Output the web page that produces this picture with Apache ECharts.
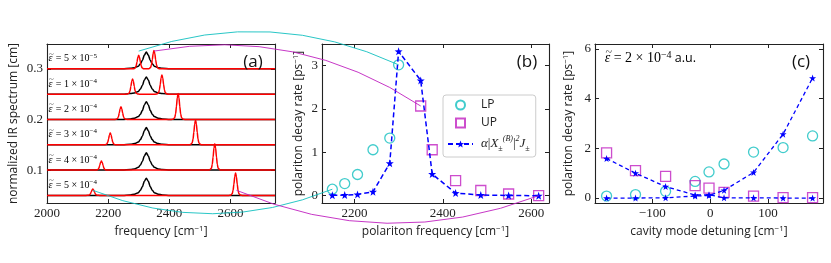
<!DOCTYPE html>
<html><head><meta charset="utf-8">
<script src="https://cdn.jsdelivr.net/npm/echarts@6/dist/echarts.min.js"></script>
<style>html,body{margin:0;padding:0;background:#fff}#c{width:831px;height:263px}</style>
</head><body><div id="c"></div>
<script>
// ---------- panel (a): IR spectra ----------
const spectrumEpsMantissa = [5, 1, 2, 3, 4, 5];
const spectrumEpsExponent = [-5, -4, -4, -4, -4, -4];
const spectrumBaselines = [0.30, 0.25, 0.20, 0.15, 0.10, 0.05];
const lpPeakFreq = [2300, 2280, 2242, 2207, 2178, 2150];
const upPeakFreq = [2350, 2376, 2429, 2486, 2549, 2617];
const lpPeakHeight = [0.027, 0.030, 0.025, 0.023, 0.018, 0.0125];
const upPeakHeight = [0.036, 0.038, 0.051, 0.049, 0.052, 0.044];
const moleculePeakFreq = 2325;
const moleculePeakHeight = [0.033, 0.034, 0.035, 0.034, 0.034, 0.034];
const spectrumFreqRange = [2000, 2746];
const redPeakWidth = 11;
const blackPeakWidth = 26;
// peak profile (offset in peak-width units, relative height)
const redProfileOffsets = [-2, -1.5, -1, -0.75, -0.5, -0.25, 0, 0.25, 0.5, 0.75, 1, 1.5, 2];
const redProfileValues  = [0, 0.01, 0.07, 0.22, 0.5, 0.84, 1, 0.84, 0.5, 0.22, 0.07, 0.01, 0];
const blackProfileOffsets = [-3, -2, -1.5, -1, -0.75, -0.5, -0.25, 0, 0.25, 0.5, 0.75, 1, 1.5, 2, 3];
const blackProfileValues  = [0, 0.03, 0.07, 0.16, 0.3, 0.5, 0.82, 1, 0.82, 0.5, 0.3, 0.16, 0.07, 0.03, 0];
const aXTicks = [2000, 2200, 2400, 2600];
const aYTicks = [0.1, 0.2, 0.3];

// ---------- panel (b): decay rate vs polariton frequency ----------
const bLPFreq = [2150, 2178, 2207, 2242, 2280, 2300];
const bLPRate = [0.15, 0.28, 0.49, 1.06, 1.33, 3.02];
const bUPFreq = [2350, 2376, 2429, 2486, 2549, 2617];
const bUPRate = [2.07, 1.06, 0.35, 0.12, 0.04, 0.0];
const bModelFreq = [2150, 2178, 2207, 2242, 2280, 2300, 2350, 2376, 2429, 2486, 2549, 2617];
const bModelRate = [0.01, 0.015, 0.03, 0.09, 0.75, 3.33, 2.66, 0.5, 0.06, 0.015, 0.005, 0.0];
const bXTicks = [2200, 2400, 2600];
const bYTicks = [0, 1, 2, 3];

// ---------- panel (c): decay rate vs detuning ----------
const cDetuning = [-179, -129, -77, -26, -2, 24, 75, 126, 177];
const cLPRate = [0.08, 0.14, 0.27, 0.67, 1.05, 1.37, 1.85, 2.03, 2.5];
const cUPRate = [1.82, 1.1, 0.87, 0.5, 0.4, 0.23, 0.08, 0.02, 0.02];
const cLPModel = [0, 0, 0.01, 0.08, 0.1, 0.31, 1.03, 2.57, 4.83];
const cUPModel = [1.59, 1.0, 0.46, 0.12, 0.13, 0.01, 0.01, 0, 0];
const cXTicks = [-100, 0, 100];
const cYTicks = [0, 2, 4, 6];

const CYAN = '#11bfbf', MAGENTA = '#c020c0', BLUE = '#0000ff';
const SERIF = '"Liberation Serif", "DejaVu Serif", serif';
const SANS = '"Open Sans", "Noto Sans", sans-serif';
const STAR = 'path://M0,-10 L2.35,-3.24 L9.51,-3.09 L3.8,1.24 L5.88,8.09 L0,4 L-5.88,8.09 L-3.8,1.24 L-9.51,-3.09 L-2.35,-3.24 Z';
const SQUARE = 'path://M0,0 L10,0 L10,10 L0,10 Z';

const grids = [
  {left: 47, top: 44, width: 228, height: 159},
  {left: 322, top: 44, width: 227, height: 159},
  {left: 595, top: 44, width: 228, height: 159}
];
const ranges = [
  {x: [2000, 2746], y: [0.035, 0.349], xt: aXTicks, yt: aYTicks,
   xname: 'frequency [cm{s|−1}]', yname: 'normalized IR spectrum [cm]', yGap: 27,
   yfmt: v => v.toFixed(1)},
  {x: [2126.6, 2640.4], y: [-0.168, 3.50], xt: bXTicks, yt: bYTicks,
   xname: 'polariton frequency [cm{s|−1}]', yname: 'polariton decay rate [ps{s|−1}]', yGap: 16,
   yfmt: v => String(v)},
  {x: [-199, 195], y: [-0.2, 6.2], xt: cXTicks, yt: cYTicks,
   xname: 'cavity mode detuning [cm{s|−1}]', yname: 'polariton decay rate [ps{s|−1}]', yGap: 19,
   yfmt: v => String(v)}
];
const nameRich = {s: {fontSize: 8, fontFamily: SANS, color: '#222', verticalAlign: 'top', lineHeight: 14}};
const xAxes = [], yAxes = [];
ranges.forEach((r, gi) => {
  const common = {type: 'value', gridIndex: gi, splitLine: {show: false},
    axisLine: {onZero: false, lineStyle: {color: '#222', width: 1.1}}};
  xAxes.push(Object.assign({}, common, {
    min: r.x[0], max: r.x[1], position: 'bottom',
    axisTick: {inside: true, length: 4, customValues: r.xt, lineStyle: {color: '#222'}},
    axisLabel: {customValues: r.xt, margin: 4, fontFamily: SERIF, fontSize: 13, color: '#222',
      formatter: v => v < 0 ? '−' + Math.abs(v) : String(v)},
    name: r.xname, nameLocation: 'middle', nameGap: 21,
    nameTextStyle: {fontFamily: SANS, fontSize: 12, color: '#222', rich: nameRich}
  }));
  xAxes.push(Object.assign({}, common, {
    min: r.x[0], max: r.x[1], position: 'top',
    axisTick: {inside: true, length: 4, customValues: r.xt, lineStyle: {color: '#222'}},
    axisLabel: {show: false}
  }));
  yAxes.push(Object.assign({}, common, {
    min: r.y[0], max: r.y[1], position: 'left',
    axisTick: {inside: true, length: 4, customValues: r.yt, lineStyle: {color: '#222'}},
    axisLabel: {customValues: r.yt, margin: 4, fontFamily: SERIF, fontSize: 13, color: '#222', formatter: r.yfmt},
    name: r.yname, nameLocation: 'middle', nameGap: r.yGap, nameRotate: 90,
    nameTextStyle: {fontFamily: SANS, fontSize: 12, color: '#222', rich: nameRich}
  }));
  yAxes.push(Object.assign({}, common, {
    min: r.y[0], max: r.y[1], position: 'right',
    axisTick: {inside: true, length: 4, customValues: r.yt, lineStyle: {color: '#222'}},
    axisLabel: {show: false}
  }));
});

function peakPoints(center, height, width, base, offsets, values) {
  return offsets.map((o, i) => [center + o * width, base + height * values[i]]);
}
const series = [];
spectrumBaselines.forEach((b, i) => {
  const black = [[spectrumFreqRange[0], b]]
    .concat(peakPoints(moleculePeakFreq, moleculePeakHeight[i], blackPeakWidth, b, blackProfileOffsets, blackProfileValues))
    .concat([[spectrumFreqRange[1], b]]);
  const red = [[spectrumFreqRange[0], b]]
    .concat(peakPoints(lpPeakFreq[i], lpPeakHeight[i], redPeakWidth, b, redProfileOffsets, redProfileValues))
    .concat(peakPoints(upPeakFreq[i], upPeakHeight[i], redPeakWidth, b, redProfileOffsets, redProfileValues))
    .concat([[spectrumFreqRange[1], b]]);
  series.push({type: 'line', xAxisIndex: 0, yAxisIndex: 0, data: black, showSymbol: false, smooth: 0.3,
    smoothMonotone: 'x', lineStyle: {color: '#000', width: 1.5}, z: 2, silent: true});
  series.push({type: 'line', xAxisIndex: 0, yAxisIndex: 0, data: red, showSymbol: false, smooth: 0.3,
    smoothMonotone: 'x', lineStyle: {color: '#ff0000', width: 1.5}, z: 3, silent: true});
});
const zip = (a, b) => a.map((v, i) => [v, b[i]]);
const circleStyle = {color: 'rgba(0,0,0,0)', borderColor: CYAN, borderWidth: 1.3};
const squareStyle = {color: 'rgba(0,0,0,0)', borderColor: MAGENTA, borderWidth: 1.3};
// panel b
series.push({name: 'LP', type: 'scatter', xAxisIndex: 2, yAxisIndex: 2, data: zip(bLPFreq, bLPRate),
  symbol: 'circle', symbolSize: 10, itemStyle: circleStyle, z: 3});
series.push({name: 'UP', type: 'scatter', xAxisIndex: 2, yAxisIndex: 2, data: zip(bUPFreq, bUPRate),
  symbol: SQUARE, symbolSize: 10, itemStyle: squareStyle, z: 3});
series.push({name: 'model', type: 'line', xAxisIndex: 2, yAxisIndex: 2, data: zip(bModelFreq, bModelRate),
  symbol: STAR, symbolSize: 8, itemStyle: {color: BLUE},
  lineStyle: {color: BLUE, width: 1.5, type: [5, 3]}, z: 4});
// panel c
series.push({name: 'LP', type: 'scatter', xAxisIndex: 4, yAxisIndex: 4, data: zip(cDetuning, cLPRate),
  symbol: 'circle', symbolSize: 10, itemStyle: circleStyle, z: 3});
series.push({name: 'UP', type: 'scatter', xAxisIndex: 4, yAxisIndex: 4, data: zip(cDetuning, cUPRate),
  symbol: SQUARE, symbolSize: 10, itemStyle: squareStyle, z: 3});
series.push({name: 'model', type: 'line', xAxisIndex: 4, yAxisIndex: 4, data: zip(cDetuning, cLPModel),
  symbol: STAR, symbolSize: 7, itemStyle: {color: BLUE},
  lineStyle: {color: BLUE, width: 1.3, type: [4, 3]}, z: 4});
series.push({name: 'model', type: 'line', xAxisIndex: 4, yAxisIndex: 4, data: zip(cDetuning, cUPModel),
  symbol: STAR, symbolSize: 7, itemStyle: {color: BLUE},
  lineStyle: {color: BLUE, width: 1.3, type: [4, 3]}, z: 4});

const chart = echarts.init(document.getElementById('c'), null, {renderer: 'canvas'});
const option = {
  animation: false,
  backgroundColor: '#fff',
  grid: grids,
  xAxis: xAxes,
  yAxis: yAxes,
  legend: {
    data: [{name: 'LP', icon: 'circle'}, {name: 'UP', icon: SQUARE}, {name: 'model'}],
    orient: 'vertical', left: 443, top: 95,
    padding: [4, 6, 4, 4], itemGap: 6, itemWidth: 25, itemHeight: 9, symbolKeepAspect: true,
    backgroundColor: '#fff', borderColor: '#ccc', borderWidth: 1, borderRadius: 3,
    selectedMode: false, z: 10,
    textStyle: {fontFamily: SANS, fontSize: 12, color: '#222', padding: [0, 0, 0, 3],
      rich: {
        g: {fontFamily: SERIF, fontStyle: 'italic', fontSize: 13, color: '#222', lineHeight: 18},
        n: {fontFamily: SERIF, fontSize: 13, color: '#222', lineHeight: 18},
        sup: {fontFamily: SERIF, fontStyle: 'italic', fontSize: 8, color: '#222', verticalAlign: 'top', lineHeight: 18},
        sub: {fontFamily: SERIF, fontSize: 8, color: '#222', verticalAlign: 'bottom', lineHeight: 18}
      }},
    formatter: name => name === 'model'
      ? '{g|α}{n||}{g|X}{sub|±}{sup|(B)}{n||}{sup|2}{g|J}{sub|±}'
      : name
  },
  series: series
};
chart.setOption(option);

// ---------- annotation layer ----------
const topAnchorY = 0.335, bottomAnchorY = 0.06;
function px(gi, x, y) { return chart.convertToPixel({xAxisIndex: 2 * gi, yAxisIndex: 2 * gi}, [x, y]); }
function arc(p0, p2, rad, color) {
  const dx = p2[0] - p0[0], dy = p2[1] - p0[1];
  const mx = (p0[0] + p2[0]) / 2, my = (p0[1] + p2[1]) / 2;
  const cx = mx + rad * dy, cy = my - rad * dx;
  return {type: 'bezierCurve', z: 100, silent: true,
    shape: {x1: p0[0], y1: p0[1], x2: p2[0], y2: p2[1], cpx1: cx, cpy1: cy},
    style: {stroke: color, lineWidth: 0.9, fill: null}};
}
const graphics = [];
graphics.push(arc(px(0, lpPeakFreq[0], topAnchorY), px(1, bLPFreq[5], bLPRate[5]), 0.2, CYAN));
graphics.push(arc(px(0, upPeakFreq[0], topAnchorY), px(1, bUPFreq[0], bUPRate[0]), 0.2, MAGENTA));
graphics.push(arc(px(0, lpPeakFreq[5], bottomAnchorY), px(1, bLPFreq[0], bLPRate[0]), -0.2, CYAN));
graphics.push(arc(px(0, upPeakFreq[5] + 3, bottomAnchorY), px(1, bUPFreq[5], bUPRate[5]), -0.2, MAGENTA));

// epsilon-tilde label: epsilon with a small tilde placed over it
function epsLabel(x, y, size, rest, sup, tail, color) {
  const rich = {
    t: {fontFamily: SERIF, fontSize: size, color: color, lineHeight: size + 3},
    e: {fontFamily: SERIF, fontStyle: 'italic', fontSize: size, color: color, lineHeight: size + 3},
    s: {fontFamily: SERIF, fontSize: Math.round(size * 0.7), color: color, verticalAlign: 'top', lineHeight: size + 3},
    a: {fontFamily: SANS, fontSize: size - 1.5, color: color, lineHeight: size + 3}
  };
  const out = [];
  out.push({type: 'text', z: 50, silent: true, x: x, y: y,
    style: {text: '{e|ε} {t|= ' + rest + '}{s|' + sup + '}' + (tail ? '{a|' + tail + '}' : ''),
      rich: rich, verticalAlign: 'middle', align: 'left'}});
  out.push({type: 'text', z: 51, silent: true, x: x + size * 0.28, y: y - size * 0.42,
    style: {text: '~', fontFamily: SERIF, fontSize: Math.round(size * 0.85), fill: color,
      verticalAlign: 'middle', align: 'center'}});
  return out;
}
spectrumBaselines.forEach((b, i) => {
  const p = px(0, 2005, b + 0.02);
  epsLabel(p[0], p[1], 10, spectrumEpsMantissa[i] + ' × 10', '−' + Math.abs(spectrumEpsExponent[i]), '', '#555')
    .forEach(g => graphics.push(g));
});
{
  const p = px(2, -182, 5.62);
  epsLabel(p[0], p[1], 14, '2 × 10', '−4', ' a.u.', '#444').forEach(g => graphics.push(g));
}
// panel letters
const letters = ['(a)', '(b)', '(c)'];
grids.forEach((g, i) => {
  graphics.push({type: 'text', z: 50, silent: true, x: g.left + g.width - 22, y: g.top + 18,
    style: {text: letters[i], fontFamily: SANS, fontSize: 17, fill: '#111', align: 'center', verticalAlign: 'middle'}});
});
chart.setOption({graphic: graphics});
</script></body></html>
